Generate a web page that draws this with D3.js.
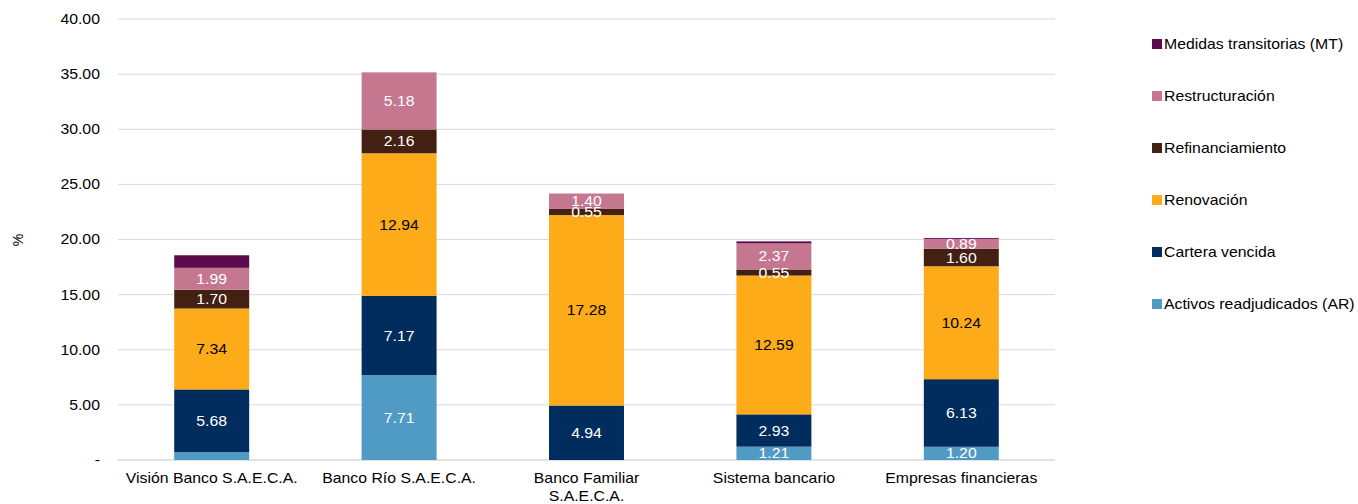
<!DOCTYPE html>
<html>
<head>
<meta charset="utf-8">
<script src="https://cdn.jsdelivr.net/npm/d3@7"></script>
<style>
    body { margin: 0; background: #fff; }
    text { font-family: "Liberation Sans", Arial, sans-serif; }
</style>
</head>
<body>
<svg id="chart" width="1358" height="504"></svg>
<script>
// categories and series values
const categories = ["Visión Banco S.A.E.C.A.", "Banco Río S.A.E.C.A.", "Banco Familiar S.A.E.C.A.", "Sistema bancario", "Empresas financieras"];
const categoryLines = [["Visión Banco S.A.E.C.A."], ["Banco Río S.A.E.C.A."], ["Banco Familiar", "S.A.E.C.A."], ["Sistema bancario"], ["Empresas financieras"]];
const seriesNames = ["Activos readjudicados (AR)", "Cartera vencida", "Renovación", "Refinanciamiento", "Restructuración", "Medidas transitorias (MT)"];
const activosAR = [0.72, 7.71, 0, 1.21, 1.20];
const carteraVencida = [5.68, 7.17, 4.94, 2.93, 6.13];
const renovacion = [7.34, 12.94, 17.28, 12.59, 10.24];
const refinanciamiento = [1.70, 2.16, 0.55, 0.55, 1.60];
const restructuracion = [1.99, 5.18, 1.40, 2.37, 0.89];
const medidasMT = [1.14, 0, 0, 0.18, 0.08];
const yTicks = [0, 5, 10, 15, 20, 25, 30, 35, 40];

const colors = ["#4f9bc4", "#002c5e", "#fdab19", "#432012", "#c4778f", "#5b0a4d"];
const labelColors = ["#fff", "#fff", "#000", "#fff", "#fff", "#fff"];
const sx = 1.13; // text in the original is a little wider than tall

let seriesValues = [activosAR, carteraVencida, renovacion, refinanciamiento, restructuracion, medidasMT];
let rows = categories.map(function (c, i) {
    let row = { cat: c };
    seriesNames.forEach(function (s, j) { row[s] = seriesValues[j][i]; });
    return row;
});

// put a text at (x, y) and widen it a bit
function place(sel, fx, fy) {
    sel.attr("transform", (d, i) => "translate(" + fx(d, i) + "," + fy(d, i) + ") scale(" + sx + ",1)");
}

let svg = d3.select("#chart");
let plotLeft = 118, plotRight = 1055, plotTop = 19, plotBottom = 460;

let x = d3.scaleBand().domain(categories).range([plotLeft, plotRight]).paddingInner(0.6).paddingOuter(0.3);
let y = d3.scaleLinear().domain([0, 40]).range([plotBottom, plotTop]);

// gridlines
svg.append("g").selectAll("line").data(yTicks).enter().append("line")
    .attr("x1", plotLeft).attr("x2", plotRight)
    .attr("y1", d => y(d)).attr("y2", d => y(d))
    .attr("stroke", "#d9d9d9").attr("stroke-width", d => d === 0 ? 1.5 : 1);

// y axis labels
let yAxis = d3.axisLeft(y).tickValues(yTicks).tickSize(0).tickPadding(16)
    .tickFormat(d => d === 0 ? "-" : d3.format(".2f")(d));
let gy = svg.append("g").attr("transform", "translate(" + plotLeft + ",0)").call(yAxis);
gy.select(".domain").remove();
gy.selectAll("text").attr("font-size", 14).attr("fill", "#000")
    .attr("transform", "scale(" + sx + ",1)")
    .style("font-family", "Liberation Sans, Arial, sans-serif");

svg.append("text").attr("transform", "translate(23,240) rotate(-90)")
    .attr("text-anchor", "middle").attr("font-size", 14).text("%");

// stacked bars
let stack = d3.stack().keys(seriesNames)(rows);
let layers = svg.append("g").selectAll("g").data(stack).enter().append("g")
    .attr("fill", (d, i) => colors[i]);
layers.selectAll("rect").data(d => d).enter().append("rect")
    .attr("x", d => x(d.data.cat))
    .attr("width", x.bandwidth())
    .attr("y", d => y(d[1]))
    .attr("height", d => y(d[0]) - y(d[1]));

// data labels
stack.forEach(function (layer, i) {
    if (i === 5) return; // MT has no labels
    let lbl = svg.append("g").selectAll("text")
        .data(layer.filter(d => d[1] - d[0] > 0.3 && !(i === 0 && d[1] - d[0] < 1)))
        .enter().append("text")
        .attr("dy", "0.36em")
        .attr("text-anchor", "middle")
        .attr("font-size", 14)
        .attr("fill", labelColors[i])
        .text(d => (d[1] - d[0]).toFixed(2));
    place(lbl, d => x(d.data.cat) + x.bandwidth() / 2, d => y((d[0] + d[1]) / 2));
});

// x category labels
let xl = svg.append("g").selectAll("text").data(categories).enter().append("text")
    .attr("text-anchor", "middle")
    .attr("font-size", 14);
place(xl, d => x(d) + x.bandwidth() / 2, () => 483);
xl.each(function (d, i) {
    let t = d3.select(this);
    categoryLines[i].forEach(function (line, k) {
        t.append("tspan").attr("x", 0).attr("dy", k === 0 ? 0 : 18).text(line);
    });
});

// legend (top to bottom: MT first)
let legendNames = seriesNames.slice().reverse();
let legendColors = colors.slice().reverse();
let lg = svg.append("g").selectAll("g").data(legendNames).enter().append("g")
    .attr("transform", (d, i) => "translate(1152," + (44 + i * 52) + ")");
lg.append("rect").attr("x", 0).attr("y", -5).attr("width", 10).attr("height", 10)
    .attr("fill", (d, i) => legendColors[i]);
lg.append("text").attr("x", 12 / sx).attr("dy", "0.36em").attr("font-size", 14)
    .attr("transform", "scale(" + sx + ",1)").text(d => d);
</script>
</body>
</html>
